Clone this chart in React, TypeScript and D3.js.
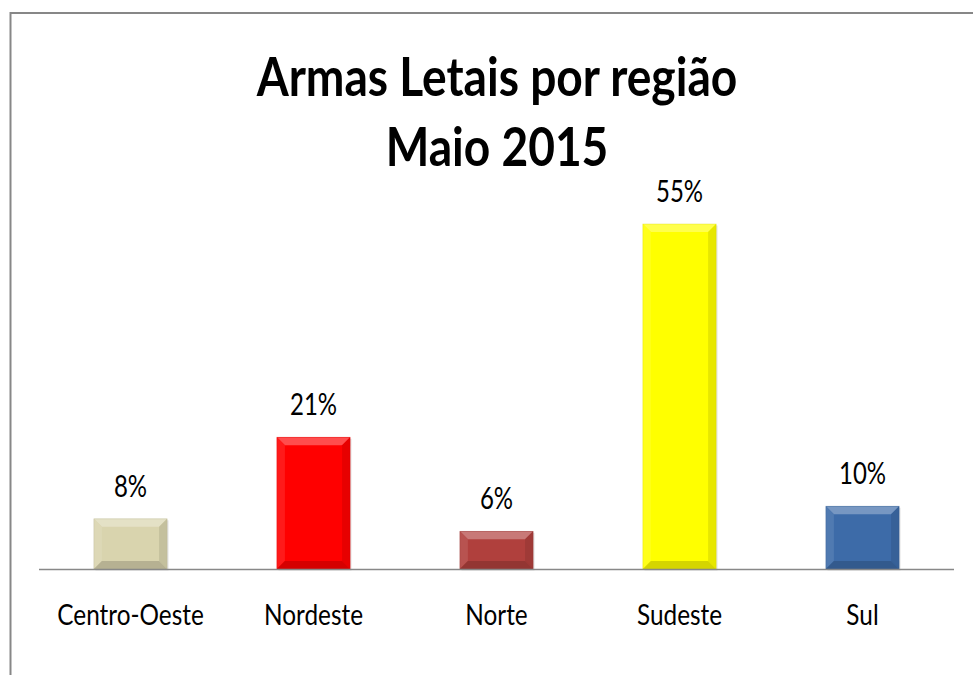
import React from 'react';
import * as d3 from 'd3';

const regions = ['Centro-Oeste', 'Nordeste', 'Norte', 'Sudeste', 'Sul'];
const shares = [8, 21, 6, 55, 10];
const barColors = ['#d9d4ae', '#ff0000', '#b0403d', '#ffff00', '#3d6ba8'];
const titleLines = ['Armas Letais por região', 'Maio 2015'];

const W = 973;
const H = 675;
const FONT = 'Lato, "Noto Sans", sans-serif';

export default function App() {
  const x = d3.scaleBand<string>()
    .domain(regions)
    .range([39, 954])
    .paddingInner(0.6)
    .paddingOuter(0.3);
  const y = d3.scaleLinear().domain([0, 55]).range([569, 224]);
  const base = y(0);

  // bevelled bar: flat face plus four edge facets
  const bar = (name: string, i: number) => {
    const x0 = x(name)!;
    const bw = x.bandwidth();
    const y0 = y(shares[i]);
    const h = base - y0;
    const b = Math.min(8, h / 2.5);
    const x1 = x0 + bw;
    const c = d3.color(barColors[i])!;
    const light = d3.interpolateRgb(barColors[i], '#ffffff')(0.3);
    const lightish = d3.interpolateRgb(barColors[i], '#ffffff')(0.1);
    const dark = c.darker(0.5).formatHex();
    const darkish = c.darker(0.28).formatHex();
    const pts = (p: number[][]) => p.map(q => q.join(',')).join(' ');
    return (
      <g key={name}>
        <rect x={x0 + 1.5} y={y0 + 1.5} width={bw} height={h} fill="#000" opacity={0.1} />
        <rect x={x0} y={y0} width={bw} height={h} fill={barColors[i]} />
        <polygon points={pts([[x0, y0], [x1, y0], [x1 - b, y0 + b], [x0 + b, y0 + b]])} fill={light} />
        <polygon points={pts([[x0, y0], [x0 + b, y0 + b], [x0 + b, base - b], [x0, base]])} fill={lightish} />
        <polygon points={pts([[x1, y0], [x1, base], [x1 - b, base - b], [x1 - b, y0 + b]])} fill={darkish} />
        <polygon points={pts([[x0, base], [x0 + b, base - b], [x1 - b, base - b], [x1, base]])} fill={dark} />
        <rect x={x0} y={y0} width={bw} height={h} fill="none" stroke={dark} strokeOpacity={0.4} strokeWidth={0.8} />
      </g>
    );
  };

  // the picture's text is narrow, so squash it sideways
  const squeezed = (cx: number, by: number, txt: string, size: number, weight: number | string, sx: number, key: string) => (
    <g key={key} transform={`translate(${cx},${by}) scale(${sx},1)`}>
      <text textAnchor="middle" fontFamily={FONT} fontSize={size} fontWeight={weight} fill="#000">{txt}</text>
    </g>
  );

  return (
    <>
      <style>{'body{margin:0}'}</style>
      <svg width={W} height={H} style={{ display: 'block', background: '#fff' }}>
        <rect x={10.5} y={13} width={1000} height={700} fill="none" stroke="#878787" strokeWidth={2} />
        {titleLines.map((t, i) => squeezed(497, 96 + i * 70, t, 53, 'bold', 0.87, 't' + i))}
        {regions.map(bar)}
        <line x1={39} x2={954} y1={base + 0.5} y2={base + 0.5} stroke="#888" strokeWidth={1.5} />
        {regions.map((r, i) =>
          squeezed(x(r)! + x.bandwidth() / 2, y(shares[i]) - 22, `${shares[i]}%`, 30, 'normal', 0.8, 'v' + i)
        )}
        {regions.map(r => squeezed(x(r)! + x.bandwidth() / 2, 625, r, 29, 'normal', 0.84, 'c' + r))}
      </svg>
    </>
  );
}
